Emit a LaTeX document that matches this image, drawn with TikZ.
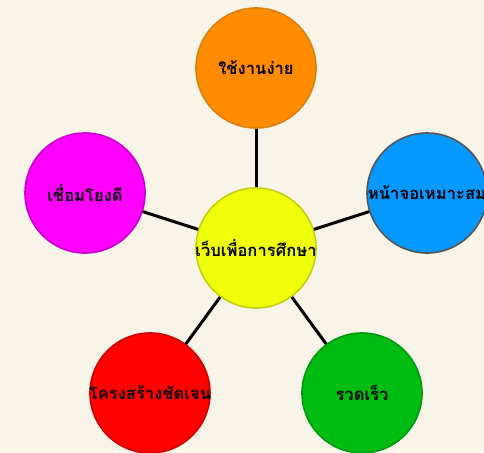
\documentclass[tikz,border=0pt]{standalone}
\usepackage{fontspec}
\newfontfamily\thaifont[Script=Thai]{Loma}
\definecolor{bgc}{HTML}{F8F5E8}
\definecolor{cyel}{HTML}{F0FF0A}
\definecolor{cyelb}{HTML}{C8CC10}
\definecolor{cora}{HTML}{FF8C00}
\definecolor{corab}{HTML}{D98010}
\definecolor{cblu}{HTML}{0599FF}
\definecolor{cblub}{HTML}{555555}
\definecolor{cmag}{HTML}{FF00FF}
\definecolor{cmagb}{HTML}{CC00CC}
\definecolor{cred}{HTML}{FF0000}
\definecolor{credb}{HTML}{CC0000}
\definecolor{cgrn}{HTML}{00BB10}
\definecolor{cgrnb}{HTML}{009A10}
\newcommand{\bubtext}[1]{\makebox[0pt]{#1}}
\begin{document}
\begin{tikzpicture}[x=1pt,y=-1pt,
  bubble/.style={circle,minimum size=120pt,inner sep=0pt,line width=1.6pt,
    font=\thaifont\bfseries\fontsize{16.6}{20}\selectfont,text=black},
  link/.style={line width=3pt,black}]
\fill[bgc] (0,0) rectangle (484,452);
\useasboundingbox (0,0) rectangle (484,452);
\coordinate (c0) at (256,248);
\coordinate (c1) at (256,68);
\coordinate (c2) at (427,193);
\coordinate (c3) at (85,193);
\coordinate (c4) at (150,393);
\coordinate (c5) at (362,393);
\draw[link] (c0) -- (c1);
\draw[link] (c0) -- (c2);
\draw[link] (c0) -- (c3);
\draw[link] (c0) -- (c4);
\draw[link] (c0) -- (c5);
\node[bubble,fill=cora,draw=corab] (n1) at (c1) {\bubtext{ใช้งานง่าย}};
\node[bubble,fill=cblu,draw=cblub] (n2) at (c2) {\bubtext{หน้าจอเหมาะสม}};
\node[bubble,fill=cmag,draw=cmagb] (n3) at (c3) {\bubtext{เชื่อมโยงดี}};
\node[bubble,fill=cred,draw=credb] (n4) at (c4) {\bubtext{โครงสร้างชัดเจน}};
\node[bubble,fill=cgrn,draw=cgrnb] (n5) at (c5) {\bubtext{รวดเร็ว}};
\node[bubble,fill=cyel,draw=cyelb] (n0) at (c0) {\bubtext{เว็บเพื่อการศึกษา}};
\end{tikzpicture}
\end{document}
